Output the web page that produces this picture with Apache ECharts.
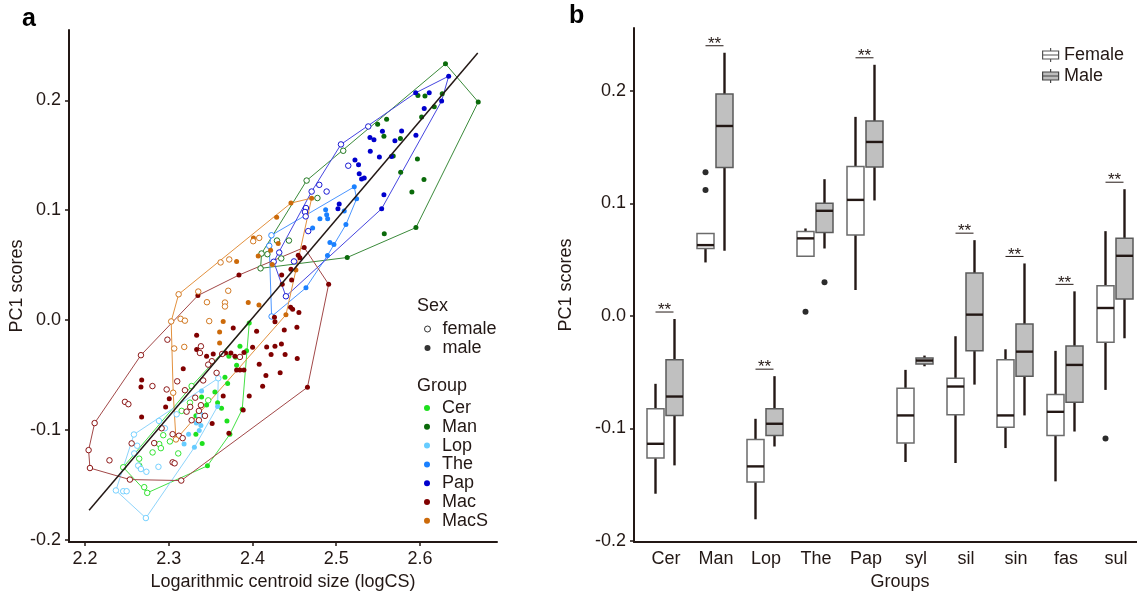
<!DOCTYPE html>
<html><head><meta charset="utf-8">
<script src="https://cdn.jsdelivr.net/npm/echarts@6/dist/echarts.min.js"></script>
<style>html,body{margin:0;padding:0;background:#fff}#c{width:1137px;height:596px}</style>
</head><body><div id="c"></div>
<script>
// ---------- Panel a data: [logCS, PC1] ----------
const groups = ['Cer', 'Man', 'Lop', 'The', 'Pap', 'Mac', 'MacS'];
const pointColors = ['#1ee01e', '#0a6a0a', '#66ccff', '#1a80ff', '#0000cd', '#800000', '#cc6a0a'];
const hullColors = ['#45e045', '#3a8a3a', '#8ed4fb', '#4c96ff', '#4646e0', '#a24848', '#e3913e'];

const cerFemale = [[2.3274,-0.06],[2.3254,-0.0751],[2.3472,-0.073],[2.3155,-0.0826],[2.3015,-0.1104],[2.3114,-0.1213],[2.2935,-0.1047],[2.2887,-0.1128],[2.2907,-0.1165],[2.2808,-0.1204],[2.2648,-0.1261],[2.2648,-0.1324],[2.2457,-0.1339],[2.2708,-0.152],[2.2744,-0.1572]];
const cerMale = [[2.3962,-0.0027],[2.393,-0.0278],[2.3851,-0.0238],[2.3799,-0.0338],[2.3719,-0.0329],[2.3811,-0.041],[2.3672,-0.0519],[2.3704,-0.0576],[2.3552,-0.0654],[2.3584,-0.0751],[2.3631,-0.0803],[2.3393,-0.07],[2.3453,-0.0772],[2.34,-0.1122],[2.3325,-0.1038],[2.3696,-0.0917],[2.3325,-0.0871],[2.3878,-0.0812],[2.3731,-0.1038],[2.3463,-0.1326]];
const manFemale = [[2.4647,0.127],[2.4776,0.1111],[2.5084,0.1541],[2.4293,0.0724],[2.4436,0.0724],[2.4344,0.0561],[2.4109,0.0606],[2.4179,0.06],[2.4097,0.0471]];
const manMale = [[2.6305,0.2332],[2.6696,0.1985],[2.5952,0.0842],[2.5132,0.057],[2.5976,0.2045],[2.606,0.2039],[2.6266,0.2061],[2.6171,0.1941],[2.602,0.1849],[2.5495,0.1783],[2.5602,0.1828],[2.557,0.1674],[2.5767,0.1653],[2.5681,0.1493],[2.597,0.1466],[2.577,0.1346],[2.6048,0.1279],[2.5904,0.1165],[2.5574,0.0787]];
const lopFemale = [[2.3592,-0.0529],[2.2585,-0.1041],[2.2884,-0.0917],[2.2955,-0.0984],[2.3095,-0.0857],[2.3365,-0.0871],[2.2624,-0.1143],[2.2589,-0.1213],[2.2636,-0.1324],[2.2669,-0.1355],[2.2734,-0.138],[2.2878,-0.1335],[2.237,-0.155],[2.2457,-0.1557],[2.2498,-0.1557],[2.2728,-0.1801]];
const lopMale = [[2.3393,-0.0645],[2.3385,-0.0857],[2.3331,-0.0937],[2.3385,-0.0959],[2.3365,-0.1005],[2.3238,-0.1038],[2.3184,-0.1127],[2.3307,-0.1158],[2.3584,-0.0785]];
const theFemale = [[2.4227,0.0772],[2.4201,0.0676],[2.4229,0.0033]];
const theMale = [[2.5216,0.1213],[2.5244,0.1104],[2.5116,0.0869],[2.4973,0.0688],[2.4896,0.0588],[2.4639,0.0294],[2.4874,0.1005],[2.4886,0.0959],[2.4898,0.0923],[2.4806,0.0923],[2.4719,0.0839],[2.4925,0.0706],[2.5096,0.0993]];
const papFemale = [[2.44,0.0217],[2.4254,0.0531],[2.432,0.0615],[2.4496,0.0534],[2.4707,0.117],[2.4798,0.1231],[2.4886,0.117],[2.4639,0.102],[2.4627,0.0984],[2.4636,0.0944],[2.4666,0.081],[2.5144,0.1405],[2.5057,0.1599],[2.5383,0.1762]];
const papMale = [[2.6343,0.222],[2.6259,0.1994],[2.5543,0.1014],[2.5949,0.2068],[2.6111,0.2068],[2.6051,0.1925],[2.5781,0.1722],[2.5701,0.1632],[2.5552,0.1719],[2.5952,0.1683],[2.5403,0.1662],[2.5451,0.1641],[2.5407,0.1536],[2.5516,0.1484],[2.566,0.149],[2.5224,0.1457],[2.5267,0.1414],[2.5275,0.1333],[2.5303,0.1285],[2.5335,0.1294],[2.557,0.114],[2.5036,0.1056],[2.5021,0.1014]];
const macFemale = [[2.2116,-0.0937],[2.2044,-0.1183],[2.206,-0.1346],[2.2537,-0.1451],[2.315,-0.146],[2.2669,-0.0319],[2.2293,-0.1276],[2.2478,-0.0744],[2.2519,-0.0765],[2.2806,-0.06],[2.2985,-0.0178],[2.2976,-0.0631],[2.3102,-0.0557],[2.3194,-0.0638],[2.3385,-0.0774],[2.3361,-0.0826],[2.3317,-0.0706],[2.3274,-0.0911],[2.3361,-0.0911],[2.2827,-0.1119],[2.2558,-0.1122],[2.3122,-0.1052],[2.3167,-0.1074],[2.3047,-0.1294],[2.3071,-0.1303],[2.3047,-0.1038],[2.3516,-0.0374],[2.3572,-0.048],[2.3639,-0.0308],[2.3851,-0.0335],[2.3385,-0.0238],[2.3373,-0.0299],[2.3472,-0.0405],[2.3412,-0.0549],[2.3433,-0.0871],[2.3214,-0.0833],[2.2916,-0.0984],[2.3257,-0.079]];
const macMale = [[2.3349,0.0224],[2.3839,0.041],[2.4618,0.0661],[2.491,0.0326],[2.4657,-0.0611],[2.4547,0.0591],[2.4567,0.0567],[2.446,0.0464],[2.4349,0.041],[2.4468,0.0365],[2.4356,0.0326],[2.4456,0.0118],[2.448,0.01],[2.4555,0.007],[2.4263,0.0027],[2.4269,-0.0015],[2.438,-0.009],[2.4531,-0.0066],[2.405,-0.0102],[2.417,-0.0244],[2.4269,-0.0238],[2.4346,-0.0217],[2.4223,-0.0314],[2.439,-0.0312],[2.4535,-0.035],[2.4081,-0.0401],[2.4161,-0.0504],[2.4331,-0.048],[2.4122,-0.0602],[2.4002,-0.0247],[2.3899,-0.0294],[2.3334,-0.0267],[2.3334,-0.0138],[2.3453,-0.0329],[2.3174,-0.0443],[2.2678,-0.0546],[2.2669,-0.0609],[2.3007,-0.0715],[2.2964,-0.079],[2.2677,-0.0881],[2.3519,-0.0941],[2.3651,-0.069],[2.3719,-0.1029],[2.3962,-0.069],[2.3679,-0.0299],[2.3743,-0.0299],[2.3791,-0.0329],[2.3811,-0.0455],[2.3851,-0.0455],[2.3899,-0.0455],[2.3771,-0.0072],[2.389,-0.0817],[2.3532,-0.0308]];
const macsFemale = [[2.3119,0.0235],[2.303,-0.0012],[2.3087,-0.1086],[2.362,0.0525],[2.3723,0.0552],[2.3353,0.026],[2.3711,0.0267],[2.3457,0.0163],[2.3672,0.016],[2.3672,0.0124],[2.4009,0.0718],[2.4081,0.0748],[2.3142,0.0012],[2.3194,-0.0005],[2.3484,-0.0009],[2.3066,-0.0258],[2.3186,-0.0244],[2.3054,-0.0661]];
const macsMale = [[2.4289,0.0937],[2.446,0.1065],[2.4707,0.111],[2.44,0.0048],[2.3811,0.0534],[2.4012,0.0747],[2.4069,0.0584],[2.4308,0.0697],[2.4217,0.0636],[2.4236,0.0507],[2.4519,0.0455],[2.395,0.0161],[2.4078,0.0138],[2.3651,-0.0012],[2.3608,-0.0109],[2.3608,-0.0208]];
const regLine = [[2.205, -0.173], [2.669, 0.243]];
const xTicksA = [2.2, 2.3, 2.4, 2.5, 2.6];
const yTicks = [-0.2, -0.1, 0.0, 0.1, 0.2];

// ---------- Panel b data: [min, Q1, median, Q3, max] ----------
const boxGroups = ['Cer', 'Man', 'Lop', 'The', 'Pap', 'syl', 'sil', 'sin', 'fas', 'sul'];
const femaleBox = [
  [-0.158, -0.1263, -0.1136, -0.0825, -0.0603],
  [0.0476, 0.060, 0.063, 0.0734, 0.0734],
  [-0.1807, -0.1476, -0.1337, -0.1097, -0.0914],
  [0.0532, 0.0532, 0.069, 0.0752, 0.0778],
  [0.0231, 0.0721, 0.1032, 0.1328, 0.177],
  [-0.1298, -0.113, -0.0884, -0.0642, -0.0479],
  [-0.1307, -0.0878, -0.0627, -0.0553, -0.018],
  [-0.1174, -0.0988, -0.0884, -0.0388, -0.0296],
  [-0.147, -0.1062, -0.0852, -0.0698, -0.031],
  [-0.0657, -0.0234, 0.0071, 0.0269, 0.0754]
];
const maleBox = [
  [-0.1328, -0.0884, -0.0716, -0.039, -0.0027],
  [0.058, 0.132, 0.1689, 0.1973, 0.234],
  [-0.116, -0.1062, -0.0958, -0.0825, -0.0535],
  [0.060, 0.0743, 0.0935, 0.1003, 0.1216],
  [0.1027, 0.1325, 0.1547, 0.1733, 0.2233],
  [-0.0447, -0.0426, -0.0396, -0.0373, -0.0352],
  [-0.061, -0.0308, 0.0012, 0.0382, 0.0674],
  [-0.0884, -0.0535, -0.0317, -0.0071, 0.0467],
  [-0.1027, -0.0766, -0.0435, -0.0266, 0.0219],
  [-0.0198, 0.0151, 0.0535, 0.0692, 0.1127]
];
const femaleOutliers = [[1, 0.1278], [1, 0.112], [3, 0.0038], [9, -0.1089]];
const maleOutliers = [[3, 0.0299]];
const significant = [1, 1, 1, 0, 1, 0, 1, 1, 1, 1];

// ---------- helpers ----------
const FONT = 'Liberation Sans, Arial, Helvetica, sans-serif';
const INK = '#231815';
function hull(pts) {
  const p = pts.slice().sort((a, b) => a[0] - b[0] || a[1] - b[1]);
  const cross = (o, a, b) => (a[0] - o[0]) * (b[1] - o[1]) - (a[1] - o[1]) * (b[0] - o[0]);
  const lower = [], upper = [];
  for (const q of p) { while (lower.length >= 2 && cross(lower[lower.length - 2], lower[lower.length - 1], q) <= 0) lower.pop(); lower.push(q); }
  for (let i = p.length - 1; i >= 0; i--) { const q = p[i]; while (upper.length >= 2 && cross(upper[upper.length - 2], upper[upper.length - 1], q) <= 0) upper.pop(); upper.push(q); }
  const h = lower.slice(0, -1).concat(upper.slice(0, -1));
  h.push(h[0]);
  return h;
}
const sets = [
  [cerFemale, cerMale], [manFemale, manMale], [lopFemale, lopMale], [theFemale, theMale],
  [papFemale, papMale], [macFemale, macMale], [macsFemale, macsMale]
];

const series = [];
groups.forEach((g, i) => {
  series.push({
    name: g + ' hull', type: 'line', xAxisIndex: 0, yAxisIndex: 0, data: hull(sets[i][0].concat(sets[i][1])),
    symbol: 'none', lineStyle: { color: hullColors[i], width: 1 }, z: 2, silent: true, animation: false
  });
});
groups.forEach((g, i) => {
  series.push({
    name: g, type: 'scatter', xAxisIndex: 0, yAxisIndex: 0, data: sets[i][1], symbol: 'circle', symbolSize: 5,
    itemStyle: { color: pointColors[i], opacity: 1 }, z: 3, animation: false
  });
  series.push({
    name: g, type: 'scatter', xAxisIndex: 0, yAxisIndex: 0, data: sets[i][0], symbol: 'circle', symbolSize: 5.5,
    itemStyle: { color: '#ffffff', borderColor: pointColors[i], borderWidth: 0.9, opacity: 1 }, z: 3, animation: false
  });
});
series.push({ name: 'female', type: 'scatter', xAxisIndex: 0, yAxisIndex: 0, data: [] });
series.push({ name: 'male', type: 'scatter', xAxisIndex: 0, yAxisIndex: 0, data: [] });
series.push({
  name: 'fit', type: 'line', xAxisIndex: 0, yAxisIndex: 0, data: regLine, symbol: 'none',
  lineStyle: { color: INK, width: 1.5 }, z: 4, silent: true, animation: false
});

// Panel b boxes
function boxRenderer(offset, fill, stroke, withSig) {
  return function (params, api) {
    const i = api.value(0);
    const c = v => api.coord([i, v]);
    const x = c(api.value(3))[0] + offset;
    const yMin = c(api.value(1))[1], yQ1 = c(api.value(2))[1], yMed = c(api.value(3))[1];
    const yQ3 = c(api.value(4))[1], yMax = c(api.value(5))[1];
    const hw = 8.5;
    const ch = [
      { type: 'line', shape: { x1: x, y1: yMax, x2: x, y2: yQ3 }, style: { stroke: INK, lineWidth: 2.4 } },
      { type: 'line', shape: { x1: x, y1: yQ1, x2: x, y2: yMin }, style: { stroke: INK, lineWidth: 2.4 } },
      { type: 'rect', shape: { x: x - hw, y: yQ3, width: 2 * hw, height: Math.max(yQ1 - yQ3, 1) }, style: { fill: fill, stroke: stroke, lineWidth: 1.5 } },
      { type: 'line', shape: { x1: x - hw, y1: yMed, x2: x + hw, y2: yMed }, style: { stroke: INK, lineWidth: 2.4 } }
    ];
    if (withSig && api.value(6)) {
      const ly = yMax - 7;
      ch.push({ type: 'line', shape: { x1: x - 19, y1: ly, x2: x - 1, y2: ly }, style: { stroke: INK, lineWidth: 1 } });
      ch.push({ type: 'text', x: x - 10, y: ly - 1.5, style: { text: '**', fill: INK, font: '17px ' + FONT, align: 'center', verticalAlign: 'middle' } });
    }
    return { type: 'group', children: ch };
  };
}
const femaleData = femaleBox.map((b, i) => [i].concat(b));
const maleData = maleBox.map((b, i) => [i].concat(b).concat([significant[i]]));
series.push({
  name: 'Female', type: 'custom', xAxisIndex: 1, yAxisIndex: 1, data: femaleData,
  encode: { x: 0, y: [1, 2, 3, 4, 5] }, renderItem: boxRenderer(-10.5, '#ffffff', '#6b6b6b', false),
  itemStyle: { color: '#ffffff' }, animation: false
});
series.push({
  name: 'Male', type: 'custom', xAxisIndex: 1, yAxisIndex: 1, data: maleData,
  encode: { x: 0, y: [1, 2, 3, 4, 5] }, renderItem: boxRenderer(8.5, '#c0c0c0', '#5a5a5a', true),
  itemStyle: { color: '#c0c0c0' }, animation: false
});
series.push({
  name: 'fOut', type: 'scatter', xAxisIndex: 1, yAxisIndex: 1, data: femaleOutliers, symbol: 'circle', symbolSize: 6,
  symbolOffset: [-10.5, 0], itemStyle: { color: '#2b2b2b', opacity: 1 }, animation: false
});
series.push({
  name: 'mOut', type: 'scatter', xAxisIndex: 1, yAxisIndex: 1, data: maleOutliers, symbol: 'circle', symbolSize: 6,
  symbolOffset: [8.5, 0], itemStyle: { color: '#2b2b2b', opacity: 1 }, animation: false
});

const txt = { color: INK, fontSize: 18, fontFamily: FONT };
const boxIcon = 'path://M0,3L16,3L16,11L0,11Z M0,7L16,7 M8,0L8,3 M8,11L8,14';

const option = {
  backgroundColor: '#ffffff',
  animation: false,
  textStyle: { fontFamily: FONT },
  grid: [
    { left: 69, right: 640, top: 30, bottom: 51 },
    { left: 634, right: 0, top: 28, bottom: 53 }
  ],
  xAxis: [
    {
      type: 'value', gridIndex: 0, min: 2.181, max: 2.692,
      name: 'Logarithmic centroid size (logCS)', nameLocation: 'middle', nameGap: 27, nameTextStyle: txt,
      axisLine: { onZero: false, lineStyle: { color: INK, width: 2 } },
      axisTick: { show: true, length: 4, customValues: xTicksA, lineStyle: { color: INK, width: 1.5 } },
      axisLabel: { customValues: xTicksA, formatter: v => v.toFixed(1), margin: 8, ...txt },
      splitLine: { show: false }
    },
    {
      type: 'value', gridIndex: 1, min: -0.64, max: 9.42,
      name: 'Groups', nameLocation: 'middle', nameGap: 30, nameTextStyle: { ...txt, padding: [0, 0, 0, 29] },
      axisLine: { onZero: false, lineStyle: { color: INK, width: 2 } },
      axisTick: { show: false },
      axisLabel: { customValues: boxGroups.map((g, i) => i), formatter: v => boxGroups[Math.round(v)], margin: 8, ...txt },
      splitLine: { show: false }
    }
  ],
  yAxis: [
    {
      type: 'value', gridIndex: 0, min: -0.202, max: 0.264,
      name: 'PC1 scores', nameLocation: 'middle', nameGap: 40, nameTextStyle: txt,
      axisLine: { onZero: false, lineStyle: { color: INK, width: 2 } },
      axisTick: { show: true, length: 4, customValues: yTicks, lineStyle: { color: INK, width: 1.5 } },
      axisLabel: { customValues: yTicks, formatter: v => v.toFixed(1), margin: 8, ...txt },
      splitLine: { show: false }
    },
    {
      type: 'value', gridIndex: 1, min: -0.201, max: 0.256,
      name: 'PC1 scores', nameLocation: 'middle', nameGap: 59, nameTextStyle: txt,
      axisLine: { onZero: false, lineStyle: { color: INK, width: 2 } },
      axisTick: { show: true, length: 4, customValues: yTicks, lineStyle: { color: INK, width: 1.5 } },
      axisLabel: { customValues: yTicks, formatter: v => v.toFixed(1), margin: 8, ...txt },
      splitLine: { show: false }
    }
  ],
  legend: [
    {
      orient: 'vertical', left: 419, top: 315, itemWidth: 20, itemHeight: 6, itemGap: 1,
      selectedMode: false, textStyle: txt, icon: 'circle',
      data: [
        { name: 'female', icon: 'circle', itemStyle: { color: '#ffffff', borderColor: '#000000', borderWidth: 1 } },
        { name: 'male', icon: 'circle', itemStyle: { color: '#000000', borderWidth: 0 } }
      ]
    },
    {
      orient: 'vertical', left: 419, top: 394, itemWidth: 20, itemHeight: 6, itemGap: 0.8,
      selectedMode: false, textStyle: txt,
      data: groups.map((g, i) => ({ name: g, icon: 'circle', itemStyle: { color: pointColors[i], borderWidth: 0 } }))
    },
    {
      orient: 'vertical', left: 1037, top: 41, itemWidth: 17, itemHeight: 14, itemGap: 3,
      selectedMode: false, textStyle: txt,
      data: [
        { name: 'Female', icon: boxIcon, itemStyle: { color: '#ffffff', borderColor: '#555555', borderWidth: 1.2 } },
        { name: 'Male', icon: boxIcon, itemStyle: { color: '#bdbdbd', borderColor: '#444444', borderWidth: 1.2 } }
      ]
    }
  ],
  graphic: [
    { type: 'text', left: 22, top: 7, style: { text: 'a', font: 'bold 25px ' + FONT, fill: '#000' } },
    { type: 'text', left: 569, top: 4, style: { text: 'b', font: 'bold 25px ' + FONT, fill: '#000' } },
    { type: 'text', left: 417, top: 297, style: { text: 'Sex', font: '18px ' + FONT, fill: INK } },
    { type: 'text', left: 417, top: 377, style: { text: 'Group', font: '18px ' + FONT, fill: INK } }
  ],
  series: series
};
const chart = echarts.init(document.getElementById('c'), null, { renderer: 'canvas' });
chart.setOption(option);
</script></body></html>
